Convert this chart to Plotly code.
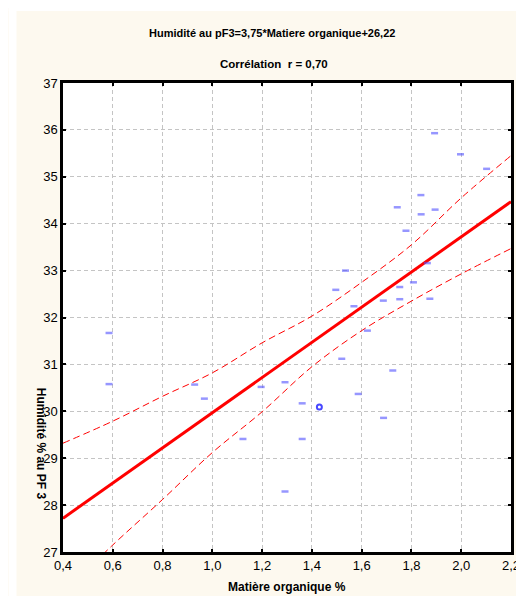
import plotly.graph_objects as go

# ---- data ----
mo = [0.585, 0.585, 0.929, 0.968, 1.123, 1.196, 1.292, 1.292, 1.361, 1.361,
      1.520, 1.586, 1.623, 1.725, 1.688, 1.893, 1.997, 2.102, 1.838, 1.743,
      1.839, 1.895, 1.778, 1.535, 1.496, 1.569, 1.864, 1.808, 1.753, 1.687,
      1.753, 1.874]
hum = [31.67, 30.58, 30.57, 30.27, 29.41, 30.52, 30.62, 28.29, 30.17, 29.41,
       31.12, 30.37, 31.72, 30.87, 29.86, 35.93, 35.48, 35.17, 34.61, 34.35,
       34.20, 34.30, 33.85, 33.00, 32.59, 32.24, 33.16, 32.75, 32.65, 32.36,
       32.39, 32.40]
mo_circle = [1.43]
hum_circle = [30.09]

fit_x = [0.4, 2.2]
fit_y = [27.72, 34.47]

band_x = [0.4, 0.6, 0.8, 1.0, 1.2, 1.4, 1.6, 1.8, 2.0, 2.2]
band_upper = [29.32, 29.79, 30.32, 30.82, 31.46, 32.03, 32.75, 33.55, 34.55, 35.45]
band_lower = [26.12, 27.15, 28.12, 29.12, 29.99, 30.95, 31.72, 32.35, 32.93, 33.47]

x_ticks = [0.4, 0.6, 0.8, 1.0, 1.2, 1.4, 1.6, 1.8, 2.0, 2.2]
x_ticklabels = ["0,4", "0,6", "0,8", "1,0", "1,2", "1,4", "1,6", "1,8", "2,0", "2,2"]
y_ticks = [27, 28, 29, 30, 31, 32, 33, 34, 35, 36, 37]

title1 = "Humidité au pF3=3,75*Matiere organique+26,22"
title2 = "Corrélation  r = 0,70"
x_title = "Matière organique %"
y_title = "Humidité % au PF 3"

FONT = "Liberation Sans Narrow, Arial Narrow, Liberation Sans, Arial, sans-serif"
CREAM = "#FDF9EF"

W, H = 524, 596
L, R, T, B = 55, 16, 75, 52
pw, ph = W - L - R, H - T - B


def px2paper(px, py):
    return (px - L) / pw, (H - B - py) / ph


fig = go.Figure()
fig.add_trace(go.Scatter(x=band_x, y=band_upper, mode="lines",
                         line=dict(color="#FF0000", width=1, dash="7px,4px", shape="spline"),
                         hoverinfo="skip", showlegend=False))
fig.add_trace(go.Scatter(x=band_x, y=band_lower, mode="lines",
                         line=dict(color="#FF0000", width=1, dash="7px,4px", shape="spline"),
                         hoverinfo="skip", showlegend=False))
fig.add_trace(go.Scatter(x=fit_x, y=fit_y, mode="lines",
                         line=dict(color="#FF0000", width=3),
                         showlegend=False))
fig.add_trace(go.Scatter(x=mo, y=hum, mode="markers",
                         marker=dict(symbol="line-ew", size=5, color="rgba(80,80,255,0.6)",
                                     line=dict(color="rgba(80,80,255,0.6)", width=2.5)),
                         showlegend=False))
fig.add_trace(go.Scatter(x=mo_circle, y=hum_circle, mode="markers",
                         marker=dict(symbol="circle-open", size=5, color="rgba(40,40,255,0.85)",
                                     line=dict(color="rgba(40,40,255,0.85)", width=2)),
                         showlegend=False))

axis_common = dict(
    showline=True, linecolor="black", linewidth=2.5, mirror="ticks",
    ticks="inside", ticklen=3, tickwidth=2, tickcolor="black",
    showgrid=True, gridcolor="#C4C4C4", gridwidth=1, griddash="4px,3px",
    zeroline=False, tickfont=dict(family=FONT, size=13, color="black"),
)

fig.update_xaxes(range=[0.4, 2.2], tickvals=x_ticks, ticktext=x_ticklabels, **axis_common)
fig.update_yaxes(range=[27, 37], tickvals=y_ticks, **axis_common)

ann = []


def add_text(px, py, text, angle=0, size=12):
    x, y = px2paper(px, py)
    ann.append(dict(x=x, y=y, text=text, showarrow=False, xref="paper", yref="paper",
                    xanchor="center", yanchor="middle", textangle=angle,
                    font=dict(family=FONT, size=size, color="black", weight="bold")))


add_text(266, 25, title1, size=11)
add_text(268, 56, title2, size=11.5)
add_text(282, 579, x_title, size=12)
add_text(33, 436, y_title, angle=90, size=12)

# white strips outside the cream panel
lx0, _ = px2paper(0, 0)
lx1, _ = px2paper(8, 0)
_, ty0 = px2paper(0, 0)
_, ty1 = px2paper(0, 3)
_, by0 = px2paper(0, H)
rx, _ = px2paper(W, 0)
shapes = [
    dict(type="rect", xref="paper", yref="paper", x0=lx0, x1=lx1, y0=by0, y1=ty0,
         fillcolor="white", line=dict(width=0), layer="below"),
    dict(type="rect", xref="paper", yref="paper", x0=lx0, x1=rx, y0=ty1, y1=ty0,
         fillcolor="white", line=dict(width=0), layer="below"),
]

fig.update_layout(
    width=W, height=H,
    margin=dict(l=L, r=R, t=T, b=B),
    paper_bgcolor=CREAM, plot_bgcolor="white",
    annotations=ann, shapes=shapes,
    showlegend=False,
)

fig.write_html("out.html")
